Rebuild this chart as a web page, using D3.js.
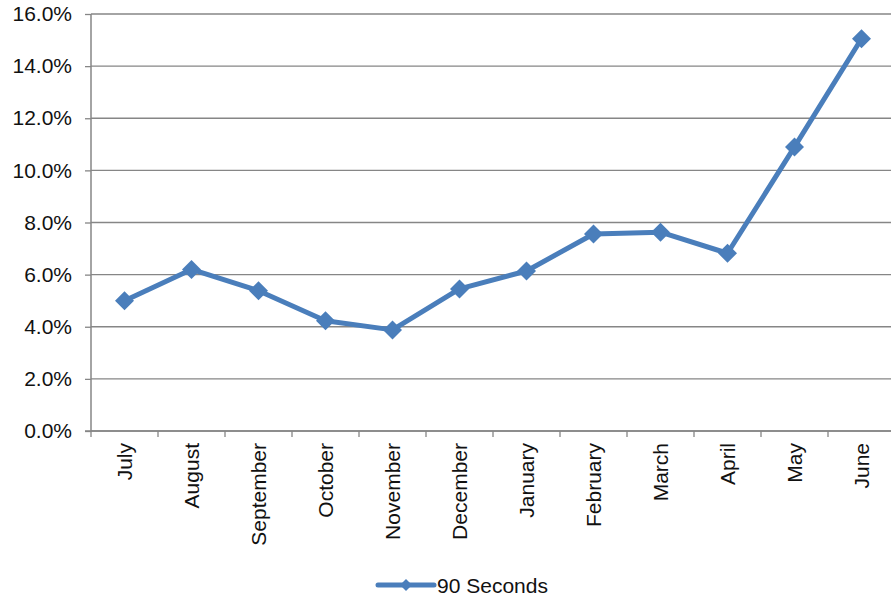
<!DOCTYPE html>
<html>
<head>
<meta charset="utf-8">
<script src="https://cdn.jsdelivr.net/npm/d3@7"></script>
<style>
  html, body { margin: 0; padding: 0; background: #fff; }
  svg { display: block; font-family: "Liberation Sans", Arial, sans-serif; }
</style>
</head>
<body>
<svg id="chart" width="891" height="598"></svg>
<script>
// Monthly share for the "90 Seconds" series
const months = ["July", "August", "September", "October", "November", "December",
                "January", "February", "March", "April", "May", "June"];
const seconds90 = [5.0, 6.2, 5.38, 4.23, 3.88, 5.45, 6.14, 7.56, 7.63, 6.82, 10.9, 15.05];
const yTicks = [0, 2, 4, 6, 8, 10, 12, 14, 16];
const seriesName = "90 Seconds";

const svg = d3.select("#chart");
const blue = "#4a7ebb";
const grey = "#868686";
const fontSize = "21px";

const plotLeft = 91, plotRight = 895, plotTop = 14, plotBottom = 431;

const x = d3.scaleBand().domain(months).range([plotLeft, plotRight]);
const y = d3.scaleLinear().domain([0, 16]).range([plotBottom, plotTop]);

// Horizontal gridlines
svg.append("g")
  .selectAll("line")
  .data(yTicks)
  .join("line")
  .attr("x1", plotLeft).attr("x2", plotRight)
  .attr("y1", d => y(d)).attr("y2", d => y(d))
  .attr("stroke", grey).attr("stroke-width", 1.3);

// Y axis
const yAxis = svg.append("g")
  .attr("transform", `translate(${plotLeft},0)`)
  .call(d3.axisLeft(y).tickValues(yTicks).tickSize(6).tickPadding(13)
    .tickFormat(d => d.toFixed(1) + "%"));
yAxis.select(".domain").attr("stroke", grey).attr("stroke-width", 1.5)
  .attr("d", `M0,${plotTop}V${plotBottom}`);
yAxis.selectAll(".tick line").attr("stroke", grey).attr("stroke-width", 1.3);
yAxis.selectAll(".tick text").attr("fill", "#111").style("font-size", fontSize)
  .attr("font-family", "Liberation Sans, Arial, sans-serif");

// X axis with ticks on category boundaries
const xAxisG = svg.append("g").attr("transform", `translate(0,${plotBottom})`);
xAxisG.append("line")
  .attr("x1", plotLeft - 6).attr("x2", plotRight)
  .attr("stroke", grey).attr("stroke-width", 1.5);
const bounds = d3.range(months.length + 1).map(i => plotLeft + i * x.step());
xAxisG.selectAll("line.tk")
  .data(bounds)
  .join("line").attr("class", "tk")
  .attr("x1", d => d).attr("x2", d => d)
  .attr("y1", 0).attr("y2", 6)
  .attr("stroke", grey).attr("stroke-width", 1.3);
xAxisG.selectAll("text")
  .data(months)
  .join("text")
  .attr("transform", d => `translate(${x(d) + x.bandwidth() / 2},12) rotate(-90)`)
  .attr("text-anchor", "end")
  .attr("dy", "0.36em")
  .attr("fill", "#111")
  .style("font-size", fontSize)
  .text(d => d);

// Series line
const cx = d => x(d) + x.bandwidth() / 2;
const data = months.map((m, i) => ({ m, v: seconds90[i] }));
svg.append("path")
  .datum(data)
  .attr("fill", "none")
  .attr("stroke", blue)
  .attr("stroke-width", 5)
  .attr("stroke-linejoin", "round")
  .attr("d", d3.line().x(d => cx(d.m)).y(d => y(d.v)));

// Diamond markers
const diamond = s => `M0,${-s}L${s},0L0,${s}L${-s},0Z`;
svg.append("g")
  .selectAll("path")
  .data(data)
  .join("path")
  .attr("transform", d => `translate(${cx(d.m)},${y(d.v)})`)
  .attr("d", diamond(9.5))
  .attr("fill", blue);

// Legend
const lg = svg.append("g").attr("transform", "translate(378,585)");
lg.append("line").attr("x1", 0).attr("x2", 56)
  .attr("stroke", blue).attr("stroke-width", 5).attr("stroke-linecap", "round");
lg.append("path").attr("transform", "translate(28,0)").attr("d", diamond(6)).attr("fill", blue);
lg.append("text").attr("x", 59).attr("y", 8)
  .attr("fill", "#111").style("font-size", fontSize)
  .text(seriesName);
</script>
</body>
</html>
